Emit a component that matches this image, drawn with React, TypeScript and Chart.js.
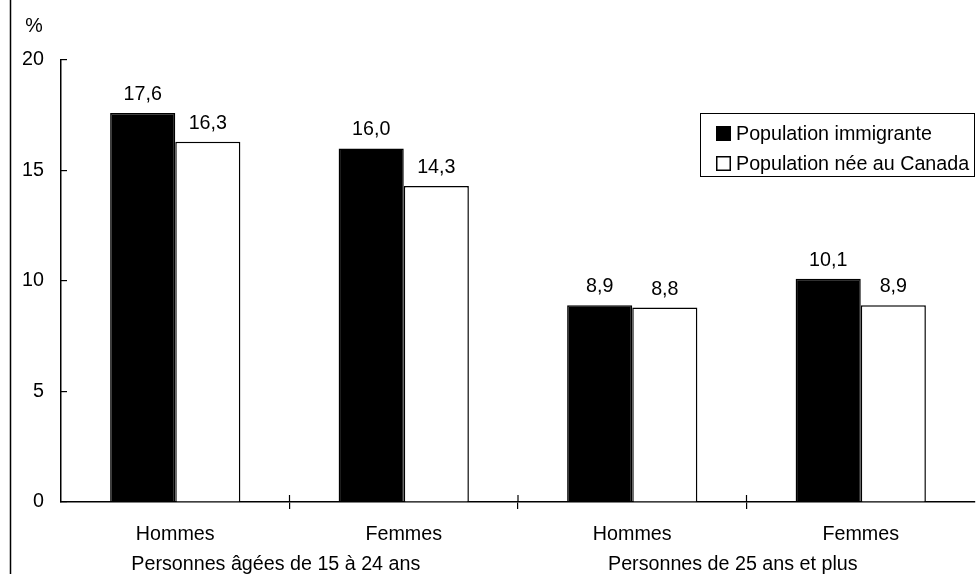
import { useEffect, useRef } from "react";
import { Chart, registerables } from "chart.js";

Chart.register(...registerables);

const categories = ["Hommes", "Femmes", "Hommes", "Femmes"];
const groupLabels = ["Personnes âgées de 15 à 24 ans", "Personnes de 25 ans et plus"];
const groupStarts = [0, 2];
const seriesNames = ["Population immigrante", "Population née au Canada"];
const immigrant = [17.6, 16.0, 8.9, 10.1];
const canadian = [16.3, 14.3, 8.8, 8.9];
const yTicks = [0, 5, 10, 15, 20];
const unitLabel = "%";

const FONT_FAMILY = '"Liberation Sans", Arial, Helvetica, sans-serif';
const FONT_SIZE = 19.7;
const fmt = (v: number) => v.toFixed(1).replace(".", ",");

const decorPlugin = {
  id: "decor",
  afterDraw(chart: any) {
    const ctx = chart.ctx as CanvasRenderingContext2D;
    const x = chart.scales.x;
    const y = chart.scales.y;
    ctx.save();
    ctx.fillStyle = "#000";
    ctx.strokeStyle = "#000";
    ctx.font = `${FONT_SIZE}px ${FONT_FAMILY}`;

    // frame line on the left
    ctx.lineWidth = 1.5;
    ctx.beginPath();
    ctx.moveTo(10.5, 0);
    ctx.lineTo(10.5, chart.height);
    ctx.stroke();

    // unit label
    ctx.textAlign = "center";
    ctx.textBaseline = "alphabetic";
    ctx.fillText(unitLabel, 34, 32);

    // value labels
    chart.data.datasets.forEach((ds: any, di: number) => {
      const meta = chart.getDatasetMeta(di);
      meta.data.forEach((bar: any, i: number) => {
        ctx.fillText(fmt(ds.data[i]), bar.x, bar.y - 13);
      });
    });

    // upward part of category boundary ticks
    const y0 = y.getPixelForValue(0);
    ctx.lineWidth = 1.2;
    for (let i = 1; i < categories.length; i++) {
      const bx = (x.getPixelForValue(i - 1) + x.getPixelForValue(i)) / 2;
      ctx.beginPath();
      ctx.moveTo(bx, y0 - 7);
      ctx.lineTo(bx, y0);
      ctx.stroke();
    }

    // group labels
    const catW = x.getPixelForValue(1) - x.getPixelForValue(0);
    groupLabels.forEach((g, gi) => {
      const cx = x.getPixelForValue(groupStarts[gi]) + 0.44 * catW;
      ctx.fillText(g, cx, 570);
    });

    // legend
    const lx = 700.5;
    const ly = 113.5;
    const lw = 274;
    const lh = 63;
    ctx.lineWidth = 1;
    ctx.fillStyle = "#fff";
    ctx.fillRect(lx, ly, lw, lh);
    ctx.strokeRect(lx, ly, lw, lh);
    ctx.textAlign = "left";
    chart.data.datasets.forEach((ds: any, di: number) => {
      const sy = 126 + di * 30;
      ctx.fillStyle = ds.backgroundColor;
      ctx.fillRect(716, sy, 14, 14);
      ctx.lineWidth = 1.5;
      ctx.strokeRect(716.75, sy + 0.75, 13.5, 13.5);
      ctx.fillStyle = "#000";
      ctx.fillText(ds.label, 736, sy + 14);
    });
    ctx.restore();
  },
};

export default function App() {
  const canvasRef = useRef<HTMLCanvasElement | null>(null);

  useEffect(() => {
    if (!canvasRef.current) return;
    const chart = new Chart(canvasRef.current, {
      type: "bar",
      data: {
        labels: categories,
        datasets: [
          {
            label: seriesNames[0],
            data: immigrant,
            backgroundColor: "#000",
            borderColor: "#000",
            borderWidth: 1.5,
            categoryPercentage: 0.57,
            barPercentage: 1.0,
          },
          {
            label: seriesNames[1],
            data: canadian,
            backgroundColor: "#fff",
            borderColor: "#000",
            borderWidth: 1.5,
            categoryPercentage: 0.57,
            barPercentage: 1.0,
          },
        ],
      },
      options: {
        animation: false,
        responsive: true,
        maintainAspectRatio: false,
        layout: { padding: { top: 60, right: 2, left: 0, bottom: 0 } },
        plugins: {
          legend: { display: false },
          tooltip: { enabled: false },
          title: { display: false },
        },
        scales: {
          x: {
            offset: true,
            grid: {
              offset: true,
              drawOnChartArea: false,
              drawTicks: true,
              tickLength: 7,
              lineWidth: 1.2,
              color: (c: any) =>
                c.index === undefined || c.index === 0 ? "rgba(0,0,0,0)" : "#000",
            },
            border: { display: true, color: "#000", width: 1.5 },
            ticks: {
              color: "#000",
              font: { family: FONT_FAMILY, size: FONT_SIZE },
              padding: 14,
              maxRotation: 0,
            },
            afterFit: (s: any) => {
              s.height = 72;
            },
          },
          y: {
            min: 0,
            max: 20,
            afterBuildTicks: (s: any) => {
              s.ticks = yTicks.map((v) => ({ value: v }));
            },
            grid: {
              drawOnChartArea: false,
              drawTicks: true,
              tickLength: -6,
              color: "#000",
              lineWidth: 1.2,
            },
            border: { display: true, color: "#000", width: 1.5 },
            ticks: {
              color: "#000",
              font: { family: FONT_FAMILY, size: FONT_SIZE },
              padding: 23,
              callback: (v: any) => String(v),
            },
            afterFit: (s: any) => {
              s.width = 61;
            },
          },
        },
      },
      plugins: [decorPlugin],
    });
    return () => chart.destroy();
  }, []);

  return (
    <div
      style={{
        position: "fixed",
        left: 0,
        top: 0,
        width: 977,
        height: 574,
        background: "#fff",
      }}
    >
      <canvas ref={canvasRef} />
    </div>
  );
}
